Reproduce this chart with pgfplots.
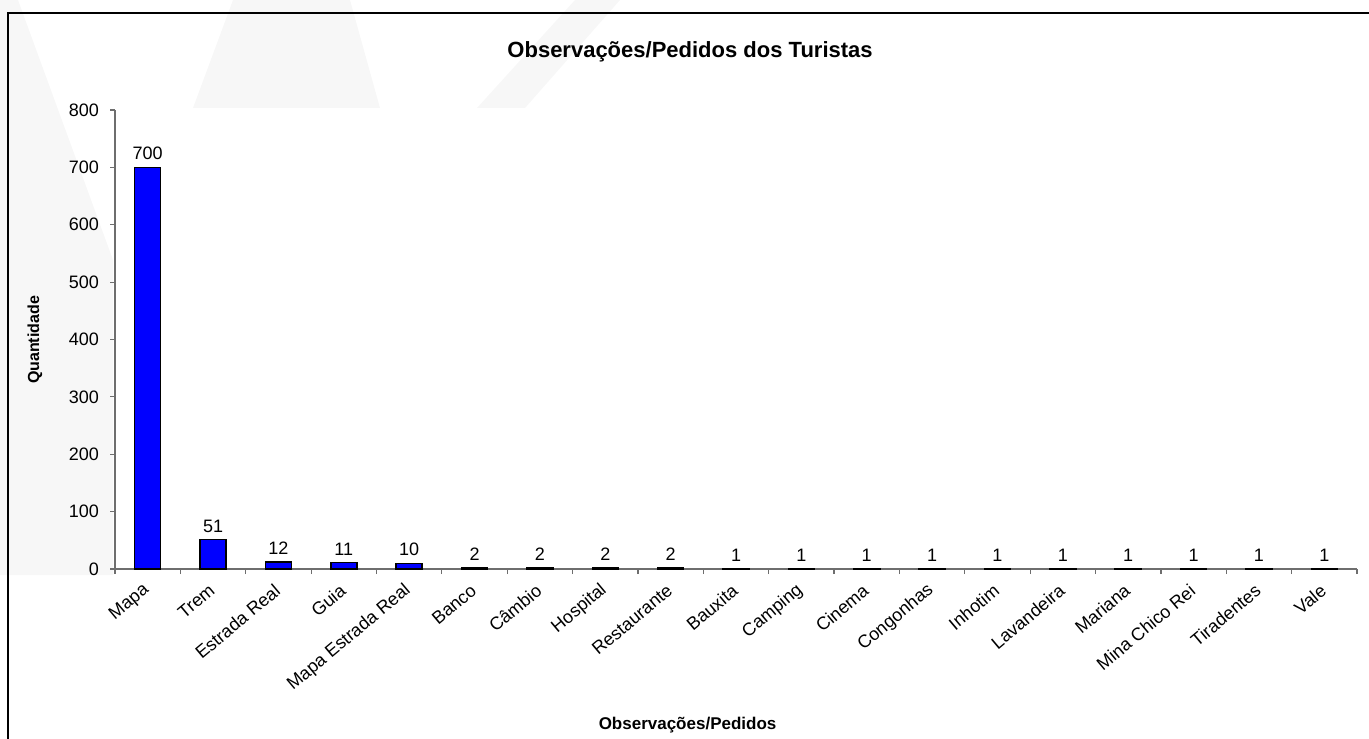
\documentclass[border=0pt]{standalone}
\usepackage{fontspec}
\setmainfont{Liberation Sans}
\usepackage{pgfplots}
\pgfplotsset{compat=1.18}
\definecolor{wm}{RGB}{247,247,247}
\definecolor{barblue}{RGB}{0,0,255}
\definecolor{axisgray}{RGB}{110,110,110}

\begin{document}
\begin{tikzpicture}
% faint watermark and frame, in pixel units of the reference
\begin{scope}[x=0.5pt,y=-0.5pt]
  \fill[wm] (0,0) -- (18,0) -- (113,260) -- (113,575) -- (0,575) -- cycle;
  \fill[wm] (193,108) -- (233,0) -- (350,0) -- (380,108) -- cycle;
  \fill[wm] (477,108) -- (575,0) -- (620,0) -- (525,108) -- cycle;
  \draw[line width=1pt] (8,740) -- (8,13) -- (1371,13);
\end{scope}
\begin{axis}[
  at={(57.5pt,-284.5pt)}, anchor=south west,
  scale only axis, width=621pt, height=229.5pt,
  ybar, bar width=13pt, bar shift=0pt,
  xmin=-0.5, xmax=18.5, ymin=0, ymax=800,
  enlargelimits=false, clip=false,
  axis x line*=bottom, axis y line*=left,
  axis line style={axisgray, line width=0.6pt},
  tick style={axisgray, line width=0.6pt},
  tick align=outside, major tick length=2.5pt,
  ytick={0,100,...,800},
  yticklabel style={font=\fontsize{9}{10}\selectfont, xshift=-2pt},
  /pgf/number format/assume math mode=true,
  xtick={-0.5,0.5,...,18.5},
  xticklabel=\empty,
  extra x ticks={0,1,...,18},
  extra x tick labels={Mapa,Trem,Estrada Real,Guia,Mapa Estrada Real,Banco,Câmbio,Hospital,Restaurante,Bauxita,Camping,Cinema,Congonhas,Inhotim,Lavandeira,Mariana,Mina Chico Rei,Tiradentes,Vale},
  extra x tick style={grid=none, major tick length=0pt, tick style={draw=none},
    tick label style={rotate=40, anchor=east, font=\fontsize{9}{10}\selectfont, yshift=-7pt, xshift=-3pt}},
  nodes near coords,
  nodes near coords style={font=\fontsize{9}{10}\selectfont, text=black},
  every axis title shift=0pt,
  title={Observações/Pedidos dos Turistas},
  title style={at={(0.463,1.126)}, anchor=center, font=\bfseries\fontsize{11}{13}\selectfont},
  xlabel={Observações/Pedidos},
  xlabel style={at={(0.461,-0.340)}, anchor=center, font=\bfseries\fontsize{8.5}{10}\selectfont},
  ylabel={Quantidade},
  ylabel style={at={(-0.0644,0.499)}, anchor=center, rotate=0, font=\bfseries\fontsize{8}{10}\selectfont},
]
\addplot[fill=barblue, draw=black, line width=0.75pt] coordinates {
  (0,700) (1,51) (2,12) (3,11) (4,10) (5,2) (6,2) (7,2) (8,2)
  (9,1) (10,1) (11,1) (12,1) (13,1) (14,1) (15,1) (16,1) (17,1) (18,1)
};
\end{axis}
\pgfresetboundingbox
\path[use as bounding box] (0,0) rectangle (684.5pt,-369pt);
\end{tikzpicture}
\end{document}
